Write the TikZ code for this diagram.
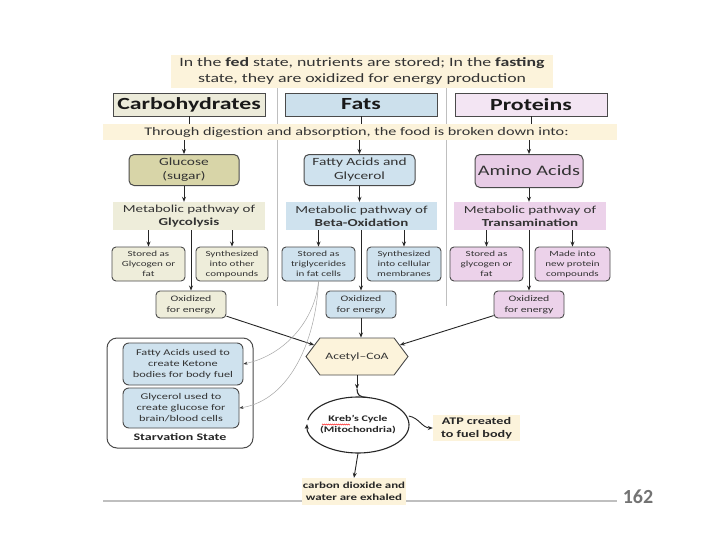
\documentclass[tikz,border=0pt]{standalone}
\usepackage{fontspec}
\setmainfont{Carlito}[FakeStretch=1.4]
\newfontfamily\plainfont{Carlito}
\usetikzlibrary{arrows.meta,shapes.geometric,shapes.symbols,decorations.pathmorphing}

\definecolor{bandyellow}{HTML}{FCF3DB}
\definecolor{carbhead}{HTML}{ECEBDA}
\definecolor{carbfood}{HTML}{D8D5A8}
\definecolor{carblight}{HTML}{EEEDDA}
\definecolor{fathead}{HTML}{CCE0EC}
\definecolor{fatlight}{HTML}{CFE2EE}
\definecolor{prohead}{HTML}{F3E5F3}
\definecolor{profood}{HTML}{E8CCE6}
\definecolor{prolight}{HTML}{ECD2EA}
\definecolor{inkgray}{HTML}{333333}
\definecolor{edgegray}{HTML}{4A4A4A}

\tikzset{
  header/.style={draw=edgegray, line width=0.9pt, minimum width=152pt, minimum height=23pt,
    inner sep=0pt, text=black!90, font=\fontsize{17}{20}\selectfont\bfseries},
  band/.style={fill=bandyellow, inner sep=0pt, align=center, text=inkgray},
  food/.style={draw=edgegray, line width=1pt, rounded corners=5pt, align=center,
    inner sep=0pt, minimum height=31pt, text=inkgray},
  pathway/.style={inner sep=0pt, minimum width=152pt, minimum height=28pt, align=center,
    text=inkgray, font=\fontsize{10.7}{13}\selectfont},
  smallbox/.style={draw=edgegray, line width=0.9pt, rounded corners=4pt, minimum width=73pt,
    minimum height=34pt, align=center, inner sep=0pt, text=inkgray,
    font=\fontsize{7.9}{10}\selectfont},
  oxbox/.style={smallbox, minimum width=70pt, minimum height=27pt,
    font=\fontsize{8.4}{11}\selectfont},
  note/.style={fill=bandyellow, inner sep=0pt, align=center, text=black!85},
  sep/.style={draw=black!25, line width=1pt},
  link/.style={draw=black!85, line width=0.9pt},
  arrow/.style={link, -{Stealth[length=5pt,width=4pt]}},
  thinarrow/.style={draw=black!35, line width=0.5pt, -{Stealth[length=4pt,width=3pt,color=black!80]}}
}

\begin{document}
\begin{tikzpicture}[x=1pt,y=-1pt]
    \useasboundingbox (0,0) rectangle (720,557);
    \fill[white] (0,0) rectangle (720,557);

    % Separators
    \draw[sep] (277,86) -- (277,306);
    \draw[sep] (446,86) -- (446,306);
    \draw[black!25, line width=1.2pt] (103,501) -- (617,501);

    % Nodes
    \node(title) [band, minimum width=382pt, minimum height=33pt, font=\fontsize{12.7}{16}\selectfont] at (362,71.5)
        {In the \textbf{fed} state, nutrients are stored; In the \textbf{fasting}\\state, they are oxidized for energy production};

    \node(carb) [header, fill=carbhead] at (189,104.5) {Carbohydrates};
    \node(fats) [header, fill=fathead] at (361,104.5) {Fats};
    \node(prot) [header, fill=prohead] at (531,104.5) {Proteins};

    \node(digest) [band, minimum width=514pt, minimum height=16pt, font=\fontsize{11.6}{14}\selectfont] at (360,132)
        {Through digestion and absorption, the food is broken down into:\hspace*{7pt}};

    \node(glucose) [food, fill=carbfood, minimum width=110pt, font=\fontsize{11}{14}\selectfont] at (184,170) {Glucose\\(sugar)};
    \node(fatty) [food, fill=fatlight, minimum width=111pt, font=\fontsize{11}{14}\selectfont] at (359.5,170) {Fatty Acids and\\Glycerol};
    \node(amino) [food, fill=profood, minimum width=108pt, minimum height=33pt, font=\fontsize{14.5}{16}\selectfont] at (529,171) {Amino Acids};

    \node(glyco) [pathway, fill=carblight] at (189,216) {Metabolic pathway of\\\textbf{Glycolysis}};
    \node(beta) [pathway, fill=fatlight, minimum width=151pt] at (361.5,216) {Metabolic pathway of\\\textbf{Beta-Oxidation}};
    \node(trans) [pathway, fill=prolight] at (530,216) {Metabolic pathway of\\\textbf{Transamination}};

    \node(storedC) [smallbox, fill=carblight] at (148.5,264) {Stored as\\Glycogen or\\fat};
    \node(synthC) [smallbox, fill=carblight, minimum width=72pt] at (232,264) {Synthesized\\into other\\compounds};
    \node(storedF) [smallbox, fill=fatlight] at (318.5,264) {Stored as\\triglycerides\\in fat cells};
    \node(synthF) [smallbox, fill=fatlight, minimum width=74pt] at (404,264) {Synthesized\\into cellular\\membranes};
    \node(storedP) [smallbox, fill=prolight] at (486.5,264) {Stored as\\glycogen or\\fat};
    \node(madeP) [smallbox, fill=prolight, minimum width=75pt] at (572.5,264) {Made into\\new protein\\compounds};

    \node(oxC) [oxbox, fill=carblight] at (191,304.5) {Oxidized\\for energy};
    \node(oxF) [oxbox, fill=fatlight] at (361,304.5) {Oxidized\\for energy};
    \node(oxP) [oxbox, fill=prolight] at (529,304.5) {Oxidized\\for energy};

    \node(acetyl) [signal, signal to=west and east, signal pointer angle=106, draw=edgegray, line width=0.9pt,
        fill=bandyellow, minimum width=102pt, minimum height=37pt, inner sep=0pt, text=inkgray,
        font=\fontsize{9.7}{11}\selectfont] at (357,356.5) {Acetyl--CoA};

    \node(krebs) [ellipse, minimum width=102pt, minimum height=56pt, inner sep=0pt, align=center,
        text=black!85, font=\fontsize{8.6}{11}\selectfont\bfseries] at (358,425) {Kreb's Cycle\\(Mitochondria)};
    \node(atp) [note, minimum width=87pt, minimum height=26pt, font=\fontsize{10.1}{13}\selectfont\bfseries] at (476.5,428)
        {ATP created\\to fuel body};
    \node(co2) [note, minimum width=104pt, minimum height=27pt, font=\fontsize{9.2}{12}\selectfont\bfseries] at (354,491.5)
        {carbon dioxide and\\water are exhaled};

    \node(starve) [draw=edgegray, line width=1pt, rounded corners=10pt, minimum width=146pt, minimum height=110pt] at (180,393) {};
    \node(ketone) [smallbox, fill=fatlight, rounded corners=6pt, minimum width=120pt, minimum height=42pt,
        font=\fontsize{8.8}{11}\selectfont] at (183,364) {Fatty Acids used to\\create Ketone\\bodies for body fuel};
    \node(glycerol) [smallbox, fill=fatlight, rounded corners=6pt, minimum width=116pt, minimum height=40pt,
        font=\fontsize{8.8}{11}\selectfont] at (181,408) {Glycerol used to\\create glucose for\\brain/blood cells};
    \node(starvelabel) [inner sep=0pt, text=black!85, font=\fontsize{10}{12}\selectfont\bfseries] at (180,437) {Starvation State};

    \node(page) [inner sep=0pt, text=black!55, font=\plainfont\fontsize{20}{22}\selectfont\bfseries] at (638,497) {162};

    % Edges
    \draw[link] (carb) -- (carb |- digest.north);
    \draw[link] (fats) -- (fats |- digest.north);
    \draw[link] (prot) -- (prot |- digest.north);
    \draw[arrow] (glucose.north |- digest.south) -- (glucose.north);
    \draw[arrow] (fatty.north |- digest.south) -- (fatty.north);
    \draw[arrow] (amino.north |- digest.south) -- (amino.north);

    \draw[arrow] (glucose.south) -- (glucose.south |- glyco.north);
    \draw[arrow] (fatty.south) -- (fatty.south |- beta.north);
    \draw[arrow] (amino.south) -- (amino.south |- trans.north);

    \draw[arrow] (storedC.north |- glyco.south) -- (storedC.north);
    \draw[arrow] (synthC.north |- glyco.south) -- (synthC.north);
    \draw[arrow] (oxC.north |- glyco.south) -- (oxC.north);
    \draw[arrow] (storedF.north |- beta.south) -- (storedF.north);
    \draw[arrow] (synthF.north |- beta.south) -- (synthF.north);
    \draw[arrow] (oxF.north |- beta.south) -- (oxF.north);
    \draw[arrow] (storedP.north |- trans.south) -- (storedP.north);
    \draw[arrow] (madeP.north |- trans.south) -- (madeP.north);
    \draw[arrow] (oxP.north |- trans.south) -- (oxP.north);

    \draw[arrow] (oxC) -- (acetyl.165);
    \draw[arrow] (oxF.south) -- (oxF.south |- acetyl.north);
    \draw[arrow] (oxP) -- (acetyl.15);

    \draw[thinarrow] (storedF.south) .. controls (315,320) and (285,355) .. (ketone.east);
    \draw[thinarrow] (storedF.south) .. controls (316,340) and (290,400) .. (glycerol.east);

    % Kreb's cycle
    \coordinate(kin) at (357,389);
    \draw[arrow] (acetyl.south) -- (kin);
    \draw[link, line width=1.1pt] (kin) .. controls (357,395) and (360,397.4) .. (367,397.4);
    \draw[link, line width=1.1pt, -{Stealth[length=5pt,width=4pt]}] (krebs.center) ++(-170:51 and 28)
        arc[start angle=-170, end angle=182, x radius=51, y radius=28];
    \draw[red!80, line width=0.5pt, decorate, decoration={zigzag, amplitude=0.6pt, segment length=2pt}]
        (322,424.5) -- (350,424.5);
    \draw[arrow] (krebs.10) to[out=-10,in=180] (atp.west);
    \draw[arrow] (krebs.south) -- (co2.north);

\end{tikzpicture}
\end{document}
